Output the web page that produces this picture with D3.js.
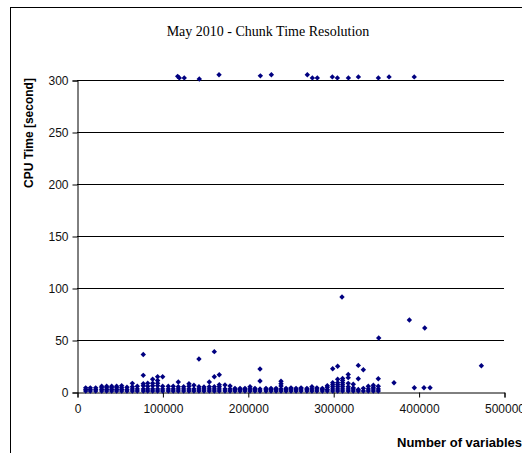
<!DOCTYPE html>
<html>
<head>
<meta charset="utf-8">
<script src="https://cdn.jsdelivr.net/npm/d3@7"></script>
<style>
  html, body { margin: 0; padding: 0; background: #fff; }
  svg { display: block; }
</style>
</head>
<body>
<svg id="chart" width="522" height="453"></svg>
<script>
// Chart text
const chartTitle = "May 2010 - Chunk Time Resolution";
const xTitle = "Number of variables";
const yTitle = "CPU Time [second]";

// Axis ticks
const xTicks = [0, 100000, 200000, 300000, 400000, 500000];
const yTicks = [0, 50, 100, 150, 200, 250, 300];

// Runs that hit the time limit (~300 s): [variables, seconds]
const timeouts = [
  [117900, 303.5], [119800, 302], [125600, 302], [143200, 301], [166300, 305],
  [214700, 304], [227600, 305], [269700, 305], [275600, 302], [281400, 302],
  [299000, 303], [304900, 302], [317800, 302], [329500, 303], [352900, 302],
  [365400, 303], [394900, 303]
];

// Slow runs well above the bulk
const slowRuns = [
  [310300, 91.3], [389200, 69.2], [407200, 61.5], [353300, 51.9], [473500, 25.3],
  [160800, 38.8], [77600, 36.0], [142800, 31.7], [329400, 25.6], [305200, 24.7],
  [299400, 22.4], [214300, 22.1], [335300, 21.4]
];

// Bulk of the runs: [variables, seconds]
const fastRuns = [
  [10200, 1], [10200, 2.5], [10200, 4],
  [15600, 1], [15600, 2.5], [15600, 4],
  [21900, 1], [21900, 2.5], [21900, 4],
  [28900, 1], [28900, 2.5], [28900, 4], [28900, 5.5],
  [34700, 1], [34700, 2.5], [34700, 4], [34700, 5.5],
  [40600, 1], [40600, 2.5], [40600, 4], [40600, 5.5],
  [46400, 1], [46400, 2.5], [46400, 4], [46400, 5.5],
  [52300, 1], [52300, 2.5], [52300, 4], [52300, 6],
  [58500, 1], [58500, 2.5], [58500, 4.5],
  [64800, 1], [64800, 3], [64800, 5], [64800, 8.3],
  [70600, 1], [70600, 3], [70600, 5.5],
  [77600, 1], [77600, 3], [77600, 6], [77600, 8], [77600, 16],
  [82800, 1], [82800, 3], [82800, 5.5], [82800, 8.5],
  [88600, 1], [88600, 3], [88600, 6], [88600, 8.5], [88600, 12.2],
  [94400, 1], [94400, 3], [94400, 6], [94400, 8.5], [94400, 11], [94400, 14.7],
  [100300, 1], [100300, 3], [100300, 5.5], [100300, 14.7],
  [106900, 1], [106900, 3], [106900, 5.5],
  [112700, 1], [112700, 3], [112700, 5.5],
  [118600, 1], [118600, 3], [118600, 5], [118600, 9.6],
  [124900, 1], [124900, 3], [124900, 5],
  [131100, 1], [131100, 3], [131100, 5.5], [131100, 8],
  [136900, 1], [136900, 3], [136900, 6.5],
  [142800, 1], [142800, 3], [142800, 5],
  [148700, 1], [148700, 3], [148700, 4.8],
  [154900, 1], [154900, 3], [154900, 5], [154900, 9.6],
  [160800, 1], [160800, 3], [160800, 5], [160800, 14.7],
  [166600, 1], [166600, 3], [166600, 5], [166600, 7], [166600, 16.6],
  [173300, 1], [173300, 3], [173300, 6.7],
  [179200, 1], [179200, 3], [179200, 5.8],
  [185000, 1], [185000, 2.5], [185000, 3.5],
  [190900, 1], [190900, 2.5], [190900, 3.5],
  [196700, 1], [196700, 2.5], [196700, 3.5],
  [202600, 1], [202600, 3], [202600, 5],
  [208400, 1], [208400, 2.5], [208400, 3.5],
  [214300, 1], [214300, 3], [214300, 10.6],
  [221300, 1], [221300, 2.5], [221300, 3.5],
  [227200, 1], [227200, 2.5], [227200, 3.5],
  [233100, 1], [233100, 2.5], [233100, 3.5],
  [238900, 1], [238900, 3], [238900, 5.8], [238900, 8], [238900, 10.3],
  [244800, 1], [244800, 2.5], [244800, 3.5],
  [250600, 1], [250600, 3], [250600, 4],
  [256500, 1], [256500, 2.5], [256500, 3.5],
  [262400, 1], [262400, 3], [262400, 4],
  [269200, 1], [269200, 2.5], [269200, 3.5],
  [275100, 1], [275100, 3], [275100, 5],
  [280900, 1], [280900, 3], [280900, 4],
  [287300, 1], [287300, 2.5], [287300, 3.5],
  [293100, 1], [293100, 2.5], [293100, 4.5], [293100, 6],
  [299400, 1], [299400, 3], [299400, 5], [299400, 7], [299400, 9],
  [305200, 1], [305200, 3], [305200, 5], [305200, 7], [305200, 9], [305200, 12.2],
  [311000, 1], [311000, 3], [311000, 5], [311000, 7], [311000, 9], [311000, 11], [311000, 13],
  [317600, 1], [317600, 3], [317600, 5], [317600, 8.3], [317600, 13.8], [317600, 16.9],
  [323500, 1], [323500, 3], [323500, 4], [323500, 7.5],
  [329400, 1], [329400, 2.5], [329400, 12.8],
  [335300, 1], [335300, 3.5],
  [341100, 1], [341100, 3], [341100, 5.5],
  [347000, 1], [347000, 3], [347000, 4.5], [347000, 6.5],
  [352800, 1], [352800, 3], [352800, 5.5], [352800, 12.8],
  [371200, 8.9], [395000, 4.1], [406300, 4.1], [413400, 4.1]
];

const points = fastRuns.concat(slowRuns, timeouts);

const svg = d3.select("#chart");
const plot = { left: 77, right: 504, top: 80, bottom: 392 };

// Outer chart frame
svg.append("rect")
  .attr("x", 10.5).attr("y", 7.5)
  .attr("width", 530).attr("height", 460)
  .attr("fill", "#fff").attr("stroke", "#000").attr("stroke-width", 1);

const x = d3.scaleLinear().domain([0, 500000]).range([plot.left, plot.right]);
const y = d3.scaleLinear().domain([0, 300]).range([plot.bottom, plot.top]);

// Horizontal gridlines
svg.append("g")
  .selectAll("line")
  .data(yTicks.filter(d => d > 0))
  .join("line")
  .attr("x1", plot.left).attr("x2", plot.right)
  .attr("y1", d => Math.round(y(d)) + 0.5).attr("y2", d => Math.round(y(d)) + 0.5)
  .attr("stroke", "#000").attr("stroke-width", 1);

// Y axis
const yAxis = svg.append("g")
  .attr("transform", `translate(${plot.left + 0.5},0.5)`)
  .call(d3.axisLeft(y).tickValues(yTicks).tickSize(5).tickPadding(4).tickFormat(d3.format("d")));
yAxis.select(".domain").attr("stroke", "#000");
yAxis.selectAll(".tick line").attr("stroke", "#000");
yAxis.selectAll("text")
  .attr("font-family", "'Liberation Sans', Arial, sans-serif")
  .attr("font-size", 12).attr("fill", "#111");

// X axis
const xAxis = svg.append("g")
  .attr("transform", `translate(0.5,${plot.bottom + 0.5})`)
  .call(d3.axisBottom(x).tickValues(xTicks).tickSize(5).tickPadding(7).tickFormat(d3.format("d")));
xAxis.select(".domain").attr("stroke", "#000");
xAxis.selectAll(".tick line").attr("stroke", "#000");
xAxis.selectAll("text")
  .attr("font-family", "'Liberation Sans', Arial, sans-serif")
  .attr("font-size", 12).attr("fill", "#111");

// Markers: small navy diamonds
const diamond = "M0,-2.7L2.7,0L0,2.7L-2.7,0Z";
svg.append("g")
  .selectAll("path")
  .data(points)
  .join("path")
  .attr("d", diamond)
  .attr("transform", d => `translate(${x(d[0])},${y(d[1])})`)
  .attr("fill", "#000080");

// Titles
svg.append("text")
  .attr("x", 268).attr("y", 36)
  .attr("text-anchor", "middle")
  .attr("font-family", "'Liberation Serif', 'Times New Roman', serif")
  .attr("font-size", 14).attr("fill", "#000")
  .text(chartTitle);

svg.append("text")
  .attr("transform", "translate(33,133) rotate(-90)")
  .attr("text-anchor", "middle")
  .attr("font-family", "'Liberation Sans', Arial, sans-serif")
  .attr("font-weight", "bold")
  .attr("font-size", 12).attr("fill", "#000")
  .text(yTitle);

svg.append("text")
  .attr("x", 397).attr("y", 447)
  .attr("font-family", "'Liberation Sans', Arial, sans-serif")
  .attr("font-weight", "bold")
  .attr("font-size", 13).attr("fill", "#000")
  .text(xTitle);
</script>
</body>
</html>
